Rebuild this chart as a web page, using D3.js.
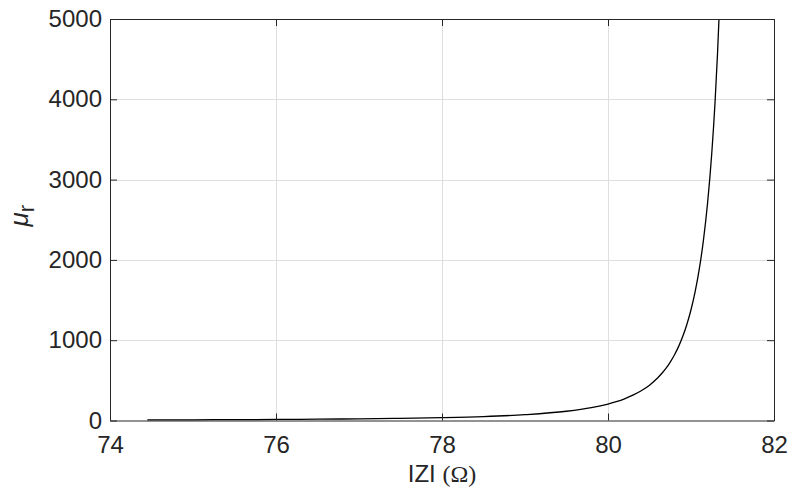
<!DOCTYPE html>
<html>
<head>
<meta charset="utf-8">
<script src="https://cdn.jsdelivr.net/npm/d3@7"></script>
<style>
  body { margin: 0; background: #fff; }
  svg text { font-family: "Liberation Sans", Arial, sans-serif; fill: #262626; }
</style>
</head>
<body>
<div id="chart"></div>
<script>
// |Z| in ohms vs relative permeability
const impedance = [74.45, 75, 75.5, 76, 76.5, 77, 77.5, 78, 78.5, 79, 79.5, 79.8, 80,
  80.1, 80.2, 80.3, 80.4, 80.5, 80.6, 80.65, 80.7, 80.75, 80.8, 80.85, 80.9, 80.95, 81.0, 81.05,
  81.1, 81.15, 81.2, 81.25, 81.29, 81.32, 81.337];
const permeability = [7.5, 9, 11, 13, 16, 20.5, 26.5, 35.5, 49, 72.6, 115, 160, 205,
  234, 270, 315, 370, 440, 532, 588, 652, 728, 816, 920, 1045, 1196, 1379, 1604,
  1887, 2246, 2711, 3325, 3969, 4580, 5000];
const xTicks = [74, 76, 78, 80, 82];
const yTicks = [0, 1000, 2000, 3000, 4000, 5000];

const W = 792, H = 496;
const margin = { top: 19, right: 18, bottom: 75.5, left: 110 };
const width = W - margin.left - margin.right;
const height = H - margin.top - margin.bottom;

const svg = d3.select("#chart").append("svg")
  .attr("width", W)
  .attr("height", H);

const g = svg.append("g")
  .attr("transform", `translate(${margin.left},${margin.top})`);

const x = d3.scaleLinear().domain([74, 82]).range([0, width]);
const y = d3.scaleLinear().domain([0, 5000]).range([height, 0]);

// grid
g.append("g").selectAll("line")
  .data(xTicks.slice(1, -1))
  .enter().append("line")
  .attr("x1", d => Math.round(x(d)) + 0.5).attr("x2", d => Math.round(x(d)) + 0.5)
  .attr("y1", 0).attr("y2", height)
  .attr("stroke", "#dfdfdf").attr("stroke-width", 1);
g.append("g").selectAll("line")
  .data(yTicks.slice(1, -1))
  .enter().append("line")
  .attr("x1", 0).attr("x2", width)
  .attr("y1", d => Math.round(y(d)) + 0.5).attr("y2", d => Math.round(y(d)) + 0.5)
  .attr("stroke", "#dfdfdf").attr("stroke-width", 1);

// curve
const line = d3.line()
  .x((d, i) => x(impedance[i]))
  .y(d => y(d))
  .curve(d3.curveMonotoneX);

g.append("path")
  .datum(permeability)
  .attr("fill", "none")
  .attr("stroke", "#000")
  .attr("stroke-width", 1.3)
  .attr("d", line);

// axes with inward ticks, box all round
const axisStyle = sel => {
  sel.select(".domain").attr("stroke", "#262626");
  sel.selectAll(".tick line").attr("stroke", "#262626");
  sel.selectAll("text").attr("font-size", 24).attr("fill", "#262626")
    .attr("font-family", "Liberation Sans, Arial, sans-serif");
};
const fmt = d3.format("d");

g.append("g")
  .attr("transform", `translate(0,${height})`)
  .call(d3.axisBottom(x).tickValues(xTicks).tickFormat(fmt).tickSizeInner(-7).tickSizeOuter(0).tickPadding(15))
  .call(axisStyle);

g.append("g")
  .call(d3.axisTop(x).tickValues(xTicks).tickSizeInner(-7).tickSizeOuter(0).tickFormat(""))
  .call(axisStyle);

g.append("g")
  .call(d3.axisLeft(y).tickValues(yTicks).tickFormat(fmt).tickSizeInner(-7).tickSizeOuter(0).tickPadding(8))
  .call(axisStyle);

g.append("g")
  .attr("transform", `translate(${width},0)`)
  .call(d3.axisRight(y).tickValues(yTicks).tickSizeInner(-7).tickSizeOuter(0).tickFormat(""))
  .call(axisStyle);

// x label
const xl = svg.append("text")
  .attr("x", margin.left + width / 2)
  .attr("y", 482)
  .attr("text-anchor", "middle")
  .attr("font-size", 24);
xl.append("tspan").text("IZI ");
xl.append("tspan").attr("font-family", "Liberation Serif, Times New Roman, serif").text("(Ω)");

// y label
const yl = svg.append("text")
  .attr("transform", `translate(28,${margin.top + height / 2 - 4}) rotate(-90)`)
  .attr("text-anchor", "middle")
  .attr("font-size", 26);
yl.append("tspan").attr("font-style", "italic").text("μ");
yl.append("tspan").attr("font-size", 22).attr("dy", 6).text("r");
</script>
</body>
</html>
